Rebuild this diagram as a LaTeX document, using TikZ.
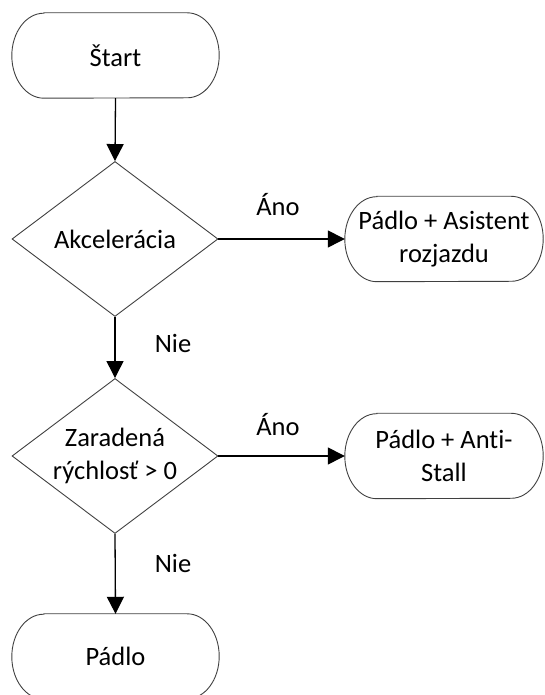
\documentclass[tikz,border=0pt]{standalone}
\usepackage{fontspec}
\setmainfont{Carlito}[Ligatures=NoCommon]
\usetikzlibrary{arrows.meta,shapes.geometric}
\newcommand\termoutline[1]{%
  \draw[termline] ([xshift=32pt]#1.north west) -- ([xshift=-32pt]#1.north east)
    arc[start angle=90,end angle=-90,x radius=32pt,y radius=42.5pt]
    -- ([xshift=32pt]#1.south west)
    arc[start angle=270,end angle=90,x radius=32pt,y radius=42.5pt] -- cycle;}
\tikzset{
  every node/.style={font=\fontsize{26.5}{32.5}\selectfont, text=black},
  term/.style={rectangle, draw=none, minimum height=85pt, inner sep=0pt, align=center},
  termline/.style={draw=black!75, line width=0.9pt},
  dia/.style={diamond, draw=black!75, line width=0.9pt, inner sep=0pt,
              minimum width=206pt, minimum height=155pt},
  txt/.style={align=center, inner sep=0pt},
  arr/.style={draw=black, line width=1.3pt, -{Triangle[length=17pt,width=17pt]}},
  lbl/.style={inner sep=0pt}
}
\begin{document}
\begin{tikzpicture}[x=1pt,y=1pt]
\useasboundingbox (0,0) rectangle (544,695);
\clip (0,0) rectangle (544,695);
% nodes
\node[term, minimum width=207pt] (s) at (115.5,639.5) {Štart};
\node[dia] (d1) at (115,456) {};
\node[txt] (d1t) at (d1.center) {Akcelerácia};
\node[term, minimum width=198pt] (t2) at (444,456) {Pádlo + Asistent\\rozjazdu};
\node[dia] (d2) at (115,239) {};
\node[txt] (d2t) at (d2.center) {Zaradená\\rýchlosť > 0};
\node[term, minimum width=198pt] (t3) at (444,239) {Pádlo + Anti-\\Stall};
\node[term, minimum width=207pt] (t4) at (115.5,38.5) {Pádlo};
% outlines of terminals
\termoutline{s}
\termoutline{t2}
\termoutline{t3}
\termoutline{t4}
% connectors
\draw[arr] (s.south) -- (d1.north);
\draw[arr] (d1.east) -- (t2.west);
\draw[arr] (d1.south) -- (d2.north);
\draw[arr] (d2.east) -- (t3.west);
\draw[arr] (d2.south) -- (t4.north);
% labels
\node[lbl] (a1) at (278,490) {Áno};
\node[lbl] (a2) at (278,270) {Áno};
\node[lbl] (n1) at (173,352) {Nie};
\node[lbl] (n2) at (173,132) {Nie};
\end{tikzpicture}
\end{document}
